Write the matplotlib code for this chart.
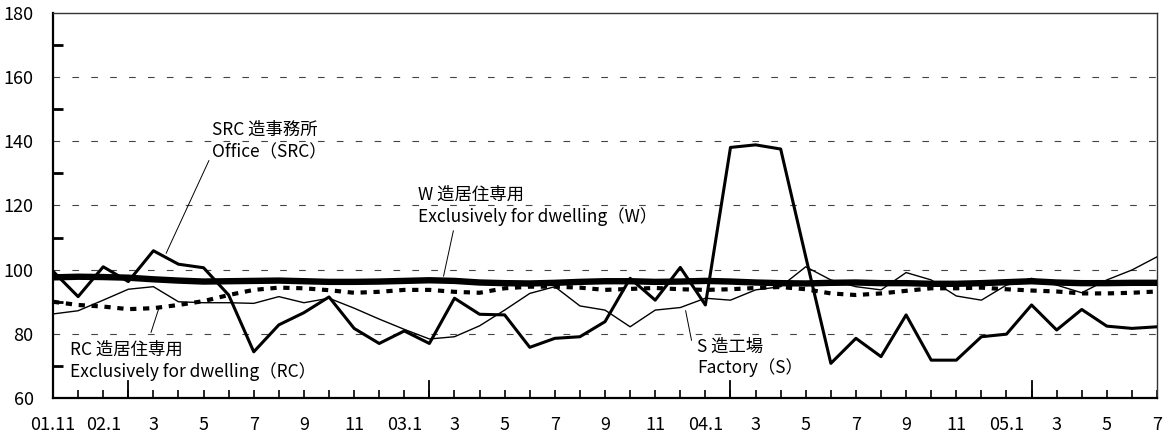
import matplotlib
matplotlib.use("Agg")
import matplotlib.pyplot as plt
import numpy as np

plt.rcParams['font.family'] = ['Noto Sans CJK JP', 'DejaVu Sans']

# monthly index, 2001.11 -> 2005.7
months = np.arange(45)
tick_labels = ["01.11", "02.1", "3", "5", "7", "9", "11",
               "03.1", "3", "5", "7", "9", "11",
               "04.1", "3", "5", "7", "9", "11",
               "05.1", "3", "5", "7"]
year_marks = [3, 15, 27, 39]

src_office = [99.5, 91.6, 100.9, 96.3, 105.9, 101.7, 100.6, 92.1, 74.4, 82.8,
              86.6, 91.5, 81.7, 77.0, 80.9, 77.0, 91.1, 86.1, 85.9, 75.8,
              78.6, 79.1, 83.8, 97.3, 90.5, 100.7, 89.0, 138.1, 138.9, 137.6,
              104.0, 70.8, 78.6, 72.9, 85.9, 71.8, 71.8, 79.1, 79.9, 89.0,
              81.2, 87.6, 82.4, 81.7, 82.2]

s_factory = [86.2, 87.2, 90.5, 93.9, 94.7, 90.0, 89.7, 89.7, 89.5, 91.6,
             89.7, 91.1, 88.0, 84.6, 81.4, 78.4, 79.1, 82.5, 87.4, 92.6,
             94.7, 88.7, 87.4, 82.2, 87.4, 88.2, 91.1, 90.5, 93.7, 94.7,
             100.9, 96.8, 94.7, 93.7, 99.1, 96.8, 91.8, 90.5, 95.2, 97.3,
             95.2, 92.8, 96.8, 99.9, 104.0]

w_dwelling = [97.6, 97.8, 97.7, 97.5, 97.0, 96.6, 96.3, 96.4, 96.5, 96.6,
              96.4, 96.2, 96.2, 96.3, 96.5, 96.7, 96.5, 96.0, 95.8, 95.7,
              95.9, 96.2, 96.4, 96.4, 96.2, 96.3, 96.5, 96.3, 96.0, 95.8,
              95.7, 95.9, 96.0, 95.8, 95.8, 95.6, 95.6, 95.8, 96.1, 96.4,
              96.0, 95.8, 95.8, 95.9, 95.9]

rc_dwelling = [90.0, 89.0, 88.5, 87.7, 88.0, 89.0, 90.2, 92.1, 93.7, 94.4,
               94.2, 93.6, 92.8, 93.1, 93.7, 93.7, 93.1, 92.8, 94.2, 94.7,
               94.7, 94.4, 93.7, 94.0, 94.3, 93.9, 93.7, 93.9, 94.3, 94.6,
               93.9, 92.6, 92.1, 92.6, 93.4, 94.2, 94.2, 94.4, 93.9, 93.5,
               93.2, 92.6, 92.6, 92.8, 93.2]

fig = plt.figure(figsize=(11.68, 4.37), dpi=100)
ax = fig.add_axes([0.0454, 0.0892, 0.9452, 0.8811])

# grid
for v in [80, 100, 120, 140, 160]:
    ax.axhline(v, color="#444444", lw=0.8, linestyle=(0, (6, 11)), zorder=1)

ax.plot(months, s_factory, color="black", lw=1.0, zorder=3)
ax.plot(months, rc_dwelling, color="black", lw=3.0, linestyle=(0, (1.5, 1.6)),
        dash_capstyle="butt", zorder=3)
ax.plot(months, w_dwelling, color="black", lw=4.6, zorder=4)
ax.plot(months, src_office, color="black", lw=2.2, zorder=5)

ax.set_xlim(0, 44)
ax.set_ylim(60, 180)

# axes / ticks
ax.spines["left"].set_linewidth(1.6)
ax.spines["bottom"].set_linewidth(1.6)
ax.spines["top"].set_linewidth(1.0)
ax.spines["right"].set_linewidth(1.0)
ax.spines["top"].set_color("#333333")
ax.spines["right"].set_color("#333333")

ax.set_yticks(np.arange(60, 181, 20))
ax.set_yticks(np.arange(70, 180, 20), minor=True)
ax.tick_params(axis="y", which="major", length=0, pad=14, labelsize=13)
ax.tick_params(axis="y", which="minor", direction="in", length=7, width=2)

ax.set_xticks(months[::2])
ax.set_xticklabels(tick_labels)
ax.set_xticks(months, minor=True)
ax.tick_params(axis="x", which="major", direction="in", length=6, width=1.2,
               pad=13, labelsize=13, top=False)
ax.tick_params(axis="x", which="minor", direction="in", length=6, width=1.2,
               top=False)

# year boundary marks
for m in year_marks:
    ax.axvline(m, ymin=0, ymax=0.044, color="black", lw=1.3, zorder=6)

# labels and leaders
fs = 12.5
ax.text(6.34, 143.5, "SRC 造事務所", fontsize=fs, va="center")
ax.text(6.34, 136.7, "Office（SRC）", fontsize=fs, va="center")
ax.annotate("", xy=(4.46, 104.3), xytext=(6.26, 134.8),
            arrowprops=dict(arrowstyle="-", lw=0.7, color="black"))

ax.text(14.55, 123.3, "W 造居住専用", fontsize=fs, va="center")
ax.text(14.55, 116.4, "Exclusively for dwelling（W）", fontsize=fs, va="center")
ax.annotate("", xy=(15.54, 97.1), xytext=(15.98, 113.0),
            arrowprops=dict(arrowstyle="-", lw=0.7, color="black"))

ax.text(0.68, 75.0, "RC 造居住専用", fontsize=fs, va="center")
ax.text(0.68, 68.1, "Exclusively for dwelling（RC）", fontsize=fs, va="center")
ax.annotate("", xy=(3.87, 79.6), xytext=(4.26, 89.0),
            arrowprops=dict(arrowstyle="-", lw=0.7, color="black"))

ax.text(25.67, 75.9, "S 造工場", fontsize=fs, va="center")
ax.text(25.67, 69.4, "Factory（S）", fontsize=fs, va="center")
ax.annotate("", xy=(25.19, 88.1), xytext=(25.47, 77.1),
            arrowprops=dict(arrowstyle="-", lw=0.7, color="black"))

fig.savefig("out.png", dpi=100)
